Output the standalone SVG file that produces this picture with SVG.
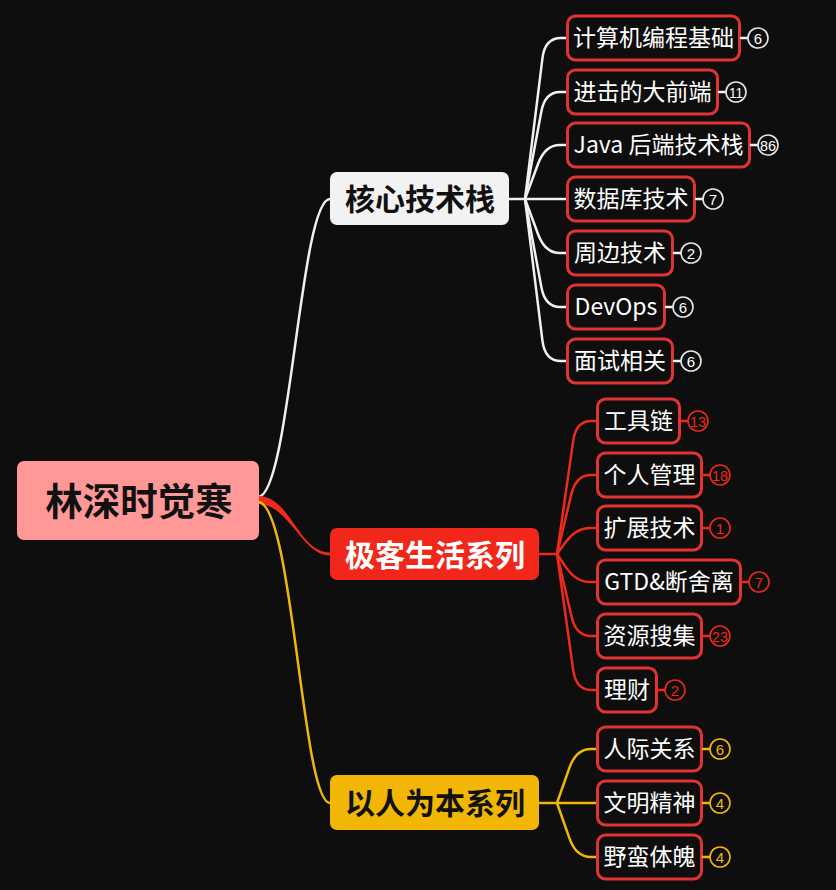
<svg xmlns="http://www.w3.org/2000/svg" width="836" height="890" viewBox="0 0 836 890">
<style>
.bg{fill:#0e0e0e}
.leaf rect{fill:#0e0e0e;stroke:#e23333;stroke-width:3}
.leaf text{fill:#ffffff;font-family:"Noto Sans CJK SC","Noto Sans",sans-serif;font-size:23px;text-anchor:middle;dominant-baseline:central}
.br text{font-family:"Noto Sans CJK SC","Noto Sans",sans-serif;font-weight:bold;font-size:30px;text-anchor:middle;dominant-baseline:central}
.root text{font-family:"Noto Sans CJK SC","Noto Sans",sans-serif;font-weight:bold;font-size:37.5px;text-anchor:middle;dominant-baseline:central;fill:#111}
.bd circle{fill:#0e0e0e;stroke-width:1.6}
.bd text{font-family:"Liberation Sans","DejaVu Sans",sans-serif;font-size:15px;text-anchor:middle;dominant-baseline:central}
.cw{fill:none;stroke:#f0f0f0;stroke-width:2.5;stroke-linecap:round}
.cr{fill:none;stroke:#ee2a1b;stroke-width:2.5;stroke-linecap:round}
.cy{fill:none;stroke:#f2b705;stroke-width:2.5;stroke-linecap:round}
.w circle{stroke:#e6e6e6}.w text{fill:#ffffff}
.r circle{stroke:#e8291c}.r text{fill:#e8291c}
.y circle{stroke:#f2b705}.y text{fill:#f2b705}
</style>
<rect class="bg" x="0" y="0" width="836" height="890"/>

<g id="connectors">
  <path class="cw" stroke-width="3" d="M258 497 C290 497 300 199 330 199"/>
  <path fill="#ee2a1b" d="M258 496 C291 496 298 552.5 330 552.5 L330 555.5 C302 555.5 289 504 258 504 Z"/>
  <path class="cy" stroke-width="3.5" d="M258 502 C293 502 302 803 330 803"/>

  <path class="cw" d="M509 199 H525"/>
  <path class="cw" d="M525 199 L542.5 57.9 Q545 38 561 38 H566"/>
  <path class="cw" d="M525 199 L541.3 111.7 Q545 92 560 92 H566"/>
  <path class="cw" d="M525 199 L538.1 163.8 Q545 145 560 145 H566"/>
  <path class="cw" d="M525 199 H566"/>
  <path class="cw" d="M525 199 L538.1 234.2 Q545 253 560 253 H566"/>
  <path class="cw" d="M525 199 L541.4 287.3 Q545 307 560 307 H566"/>
  <path class="cw" d="M525 199 L542.5 341.1 Q545 361 561 361 H566"/>

  <path class="cr" d="M539 554 H557"/>
  <path class="cr" d="M557 554 L573.2 440.8 Q576 421 591 421 H596"/>
  <path class="cr" d="M557 554 L571.3 494.4 Q576 475 591 475 H596"/>
  <path class="cr" d="M557 554 L565.4 542.5 Q576 528 590 528 H596"/>
  <path class="cr" d="M557 554 L565.9 567.1 Q576 582 590 582 H596"/>
  <path class="cr" d="M557 554 L571.5 616.5 Q576 636 591 636 H596"/>
  <path class="cr" d="M557 554 L573.2 670.2 Q576 690 591 690 H596"/>

  <path class="cy" d="M539 803 H557"/>
  <path class="cy" d="M557 803 L569.4 767.9 Q576 749 591 749 H596"/>
  <path class="cy" d="M557 803 H596"/>
  <path class="cy" d="M557 803 L569.4 838.1 Q576 857 591 857 H596"/>
</g>

<g id="root" class="root">
  <rect x="17" y="461" width="242" height="79" rx="7" fill="#ff9896"/>
  <text x="139" y="498">林深时觉寒</text>
</g>

<g id="branch-core" class="br">
  <rect x="330" y="172" width="179" height="53" rx="7" fill="#f2f2f2"/>
  <text x="420" y="197" fill="#111">核心技术栈</text>
</g>
<g id="branch-geek" class="br">
  <rect x="330" y="528" width="209" height="52" rx="7" fill="#f0271a"/>
  <text x="435" y="552.5" fill="#ffffff">极客生活系列</text>
</g>
<g id="branch-people" class="br">
  <rect x="330" y="775" width="209" height="55" rx="7" fill="#f2b705"/>
  <text x="435" y="801" fill="#111">以人为本系列</text>
</g>

<!-- core leaves -->
<g id="leaf-c1" class="leaf"><rect x="567.5" y="16" width="172" height="44" rx="8"/><text x="653.5" y="36">计算机编程基础</text></g>
<g id="leaf-c2" class="leaf"><rect x="567.5" y="70" width="150" height="44" rx="8"/><text x="642.5" y="90">进击的大前端</text></g>
<g id="leaf-c3" class="leaf"><rect x="567.5" y="123" width="182" height="44" rx="8"/><text x="658.5" y="143">Java 后端技术栈</text></g>
<g id="leaf-c4" class="leaf"><rect x="567.5" y="177" width="127" height="44" rx="8"/><text x="631" y="197">数据库技术</text></g>
<g id="leaf-c5" class="leaf"><rect x="567.5" y="231" width="105" height="44" rx="8"/><text x="620" y="251">周边技术</text></g>
<g id="leaf-c6" class="leaf"><rect x="567.5" y="285" width="97" height="44" rx="8"/><text x="616" y="305">DevOps</text></g>
<g id="leaf-c7" class="leaf"><rect x="567.5" y="339" width="105" height="44" rx="8"/><text x="620" y="359">面试相关</text></g>

<!-- geek leaves -->
<g id="leaf-g1" class="leaf"><rect x="597.5" y="399" width="82" height="44" rx="8"/><text x="638.5" y="419">工具链</text></g>
<g id="leaf-g2" class="leaf"><rect x="597.5" y="453" width="104" height="44" rx="8"/><text x="649.5" y="473">个人管理</text></g>
<g id="leaf-g3" class="leaf"><rect x="597.5" y="506" width="104" height="44" rx="8"/><text x="649.5" y="526">扩展技术</text></g>
<g id="leaf-g4" class="leaf"><rect x="597.5" y="560" width="143" height="44" rx="8"/><text x="669" y="580">GTD&amp;断舍离</text></g>
<g id="leaf-g5" class="leaf"><rect x="597.5" y="614" width="104" height="44" rx="8"/><text x="649.5" y="634">资源搜集</text></g>
<g id="leaf-g6" class="leaf"><rect x="597.5" y="668" width="59" height="44" rx="8"/><text x="627" y="688">理财</text></g>

<!-- people leaves -->
<g id="leaf-p1" class="leaf"><rect x="597.5" y="727" width="104" height="44" rx="8"/><text x="649.5" y="747">人际关系</text></g>
<g id="leaf-p2" class="leaf"><rect x="597.5" y="781" width="104" height="44" rx="8"/><text x="649.5" y="801">文明精神</text></g>
<g id="leaf-p3" class="leaf"><rect x="597.5" y="835" width="104" height="44" rx="8"/><text x="649.5" y="855">野蛮体魄</text></g>

<!-- badges -->
<g id="badges">
  <g class="bd w"><path class="cw" stroke-width="2" d="M741 38 H748"/><circle cx="758" cy="38" r="10"/><text x="758" y="38">6</text></g>
  <g class="bd w"><path class="cw" stroke-width="2" d="M719 92 H726"/><circle cx="736" cy="92" r="10"/><text x="736" y="92" textLength="14" lengthAdjust="spacingAndGlyphs">11</text></g>
  <g class="bd w"><path class="cw" stroke-width="2" d="M751 145 H758"/><circle cx="768" cy="145" r="10"/><text x="768" y="145" textLength="16" lengthAdjust="spacingAndGlyphs">86</text></g>
  <g class="bd w"><path class="cw" stroke-width="2" d="M696 199 H703"/><circle cx="713" cy="199" r="10"/><text x="713" y="199">7</text></g>
  <g class="bd w"><path class="cw" stroke-width="2" d="M674 253 H681"/><circle cx="691" cy="253" r="10"/><text x="691" y="253">2</text></g>
  <g class="bd w"><path class="cw" stroke-width="2" d="M666 307 H673"/><circle cx="683" cy="307" r="10"/><text x="683" y="307">6</text></g>
  <g class="bd w"><path class="cw" stroke-width="2" d="M674 361 H681"/><circle cx="691" cy="361" r="10"/><text x="691" y="361">6</text></g>

  <g class="bd r"><path class="cr" stroke-width="2" d="M681 421 H688"/><circle cx="698" cy="421" r="10"/><text x="698" y="421" textLength="16" lengthAdjust="spacingAndGlyphs">13</text></g>
  <g class="bd r"><path class="cr" stroke-width="2" d="M703 475 H710"/><circle cx="720" cy="475" r="10"/><text x="720" y="475" textLength="16" lengthAdjust="spacingAndGlyphs">18</text></g>
  <g class="bd r"><path class="cr" stroke-width="2" d="M703 528 H710"/><circle cx="720" cy="528" r="10"/><text x="720" y="528">1</text></g>
  <g class="bd r"><path class="cr" stroke-width="2" d="M742 582 H749"/><circle cx="759" cy="582" r="10"/><text x="759" y="582">7</text></g>
  <g class="bd r"><path class="cr" stroke-width="2" d="M703 636 H710"/><circle cx="720" cy="636" r="10"/><text x="720" y="636" textLength="16" lengthAdjust="spacingAndGlyphs">23</text></g>
  <g class="bd r"><path class="cr" stroke-width="2" d="M658 690 H665"/><circle cx="675" cy="690" r="10"/><text x="675" y="690">2</text></g>

  <g class="bd y"><path class="cy" stroke-width="2" d="M703 749 H710"/><circle cx="720" cy="749" r="10"/><text x="720" y="749">6</text></g>
  <g class="bd y"><path class="cy" stroke-width="2" d="M703 803 H710"/><circle cx="720" cy="803" r="10"/><text x="720" y="803">4</text></g>
  <g class="bd y"><path class="cy" stroke-width="2" d="M703 857 H710"/><circle cx="720" cy="857" r="10"/><text x="720" y="857">4</text></g>
</g>
</svg>
